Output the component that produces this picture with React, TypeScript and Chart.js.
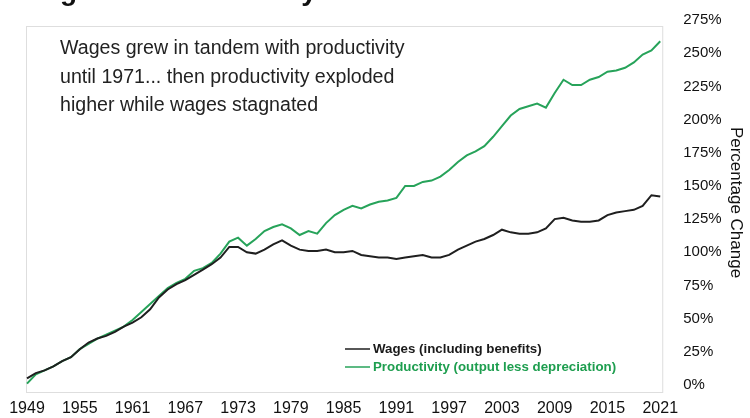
import React, { useEffect, useRef } from "react";
import { Chart, registerables } from "chart.js";

Chart.register(...registerables);

const years: string[] = [
  "1949","1950","1951","1952","1953","1954","1955","1956","1957","1958",
  "1959","1960","1961","1962","1963","1964","1965","1966","1967","1968",
  "1969","1970","1971","1972","1973","1974","1975","1976","1977","1978",
  "1979","1980","1981","1982","1983","1984","1985","1986","1987","1988",
  "1989","1990","1991","1992","1993","1994","1995","1996","1997","1998",
  "1999","2000","2001","2002","2003","2004","2005","2006","2007","2008",
  "2009","2010","2011","2012","2013","2014","2015","2016","2017","2018",
  "2019","2020","2021",
];

const wages: number[] = [
  5, 9, 11, 14, 18, 21, 27, 32, 35, 37,
  40, 44, 47, 51, 57, 66, 72, 76, 79, 83,
  87, 91, 96, 104, 104, 100, 99, 102, 106, 109,
  105, 102, 101, 101, 102, 100, 100, 101, 98, 97,
  96, 96, 95, 96, 97, 98, 96, 96, 98, 102,
  105, 108, 110, 113, 117, 115, 114, 114, 115, 118,
  125, 126, 124, 123, 123, 124, 128, 130, 131, 132,
  135, 143, 142,
];

const productivity: number[] = [
  1, 8, 11, 14, 18, 21, 27, 31, 35, 38,
  41, 44, 49, 55, 61, 67, 73, 77, 80, 86,
  88, 92, 99, 108, 111, 105, 110, 116, 119, 121,
  118, 113, 116, 114, 122, 128, 132, 135, 133, 136,
  138, 139, 141, 150, 150, 153, 154, 157, 162, 168,
  173, 176, 180, 187, 195, 203, 208, 210, 212, 209,
  220, 230, 226, 226, 230, 232, 236, 237, 239, 243,
  249, 252, 259,
];

const yTicks: number[] = [0, 25, 50, 75, 100, 125, 150, 175, 200, 225, 250, 275];

const seriesLabels = ["Wages (including benefits)", "Productivity (output less depreciation)"];
const annotationLines = [
  "Wages grew in tandem with productivity",
  "until 1971... then productivity exploded",
  "higher while wages stagnated",
];
const chartTitle = "Wages vs Productivity";

const WAGE_COLOR = "#1f1f1f";
const PROD_COLOR = "#27a35a";
const FONT = "'Liberation Sans', Arial, sans-serif";

const decorPlugin = {
  id: "decor",
  beforeDatasetsDraw(chart: any) {
    const { ctx, chartArea } = chart;
    ctx.save();
    ctx.strokeStyle = "#dedede";
    ctx.lineWidth = 1;
    ctx.strokeRect(
      chartArea.left - 0.5,
      chartArea.top + 6.5,
      chartArea.right - chartArea.left + 3,
      chartArea.bottom - chartArea.top + 1
    );
    ctx.restore();
  },
  afterDraw(chart: any) {
    const { ctx, chartArea } = chart;
    ctx.save();
    // cut-off title at the very top
    ctx.fillStyle = "#111";
    ctx.font = `bold 28px ${FONT}`;
    ctx.textAlign = "left";
    ctx.textBaseline = "alphabetic";
    ctx.fillText(chartTitle, 19, 0);

    // annotation
    ctx.fillStyle = "#222";
    ctx.font = `19.6px ${FONT}`;
    ctx.textBaseline = "middle";
    annotationLines.forEach((line, i) => {
      ctx.fillText(line, chartArea.left + 33, chartArea.top + 29 + i * 28.5);
    });

    // legend
    const ds = chart.data.datasets;
    const lx = chartArea.left + 318;
    const ly = chartArea.bottom - 36;
    ctx.font = `bold 13.3px ${FONT}`;
    ds.forEach((d: any, i: number) => {
      const y = ly + i * 18;
      ctx.strokeStyle = d.borderColor;
      ctx.lineWidth = 1.5;
      ctx.beginPath();
      ctx.moveTo(lx, y);
      ctx.lineTo(lx + 25, y);
      ctx.stroke();
      ctx.fillStyle = i === 0 ? "#1a1a1a" : "#1e9e4f";
      ctx.fillText(d.label, lx + 28, y + 0.5);
    });
    ctx.restore();
  },
};

export default function App() {
  const canvasRef = useRef<HTMLCanvasElement | null>(null);

  useEffect(() => {
    if (!canvasRef.current) return;
    const chart = new Chart(canvasRef.current, {
      type: "line",
      data: {
        labels: years,
        datasets: [
          {
            label: seriesLabels[0],
            data: wages,
            borderColor: WAGE_COLOR,
            borderWidth: 2,
            pointRadius: 0,
            tension: 0,
            fill: false,
          },
          {
            label: seriesLabels[1],
            data: productivity,
            borderColor: PROD_COLOR,
            borderWidth: 2,
            pointRadius: 0,
            tension: 0,
            fill: false,
          },
        ],
      },
      options: {
        animation: false,
        responsive: false,
        maintainAspectRatio: false,
        layout: { padding: { left: 27, right: 0, top: 20, bottom: 0 } },
        plugins: {
          legend: { display: false },
          tooltip: { enabled: false },
          title: { display: false },
        },
        scales: {
          x: {
            type: "category",
            offset: false,
            afterFit: (s: any) => {
              s.height = 33;
            },
            grid: {
              display: true,
              drawOnChartArea: false,
              drawTicks: true,
              tickLength: 11,
              color: "rgba(0,0,0,0)",
            },
            border: { display: false },
            ticks: {
              autoSkip: false,
              maxRotation: 0,
              minRotation: 0,
              padding: 3,
              color: "#111",
              font: { family: FONT, size: 16 },
              callback: function (this: any, _v: any, index: number) {
                return index % 6 === 0 ? years[index] : "";
              },
            },
          },
          y: {
            position: "right",
            min: 0,
            max: 275,
            afterBuildTicks: (axis: any) => {
              axis.ticks = yTicks.map((v) => ({ value: v }));
            },
            grid: {
              display: true,
              drawOnChartArea: false,
              drawTicks: true,
              tickLength: 20,
              color: "rgba(0,0,0,0)",
            },
            border: { display: false },
            ticks: {
              padding: 3,
              color: "#111",
              font: { family: FONT, size: 15 },
              callback: (v: any) => `${v}%`,
            },
            title: {
              display: true,
              text: "Percentage Change",
              color: "#111",
              font: { family: FONT, size: 17 },
              padding: { top: 4, bottom: 1 },
            },
          },
        },
      },
      plugins: [decorPlugin],
    });
    return () => chart.destroy();
  }, []);

  return (
    <div style={{ position: "absolute", left: 0, top: 0, width: 750, height: 418, background: "#fff" }}>
      <canvas ref={canvasRef} width={750} height={418} style={{ display: "block" }} />
    </div>
  );
}
